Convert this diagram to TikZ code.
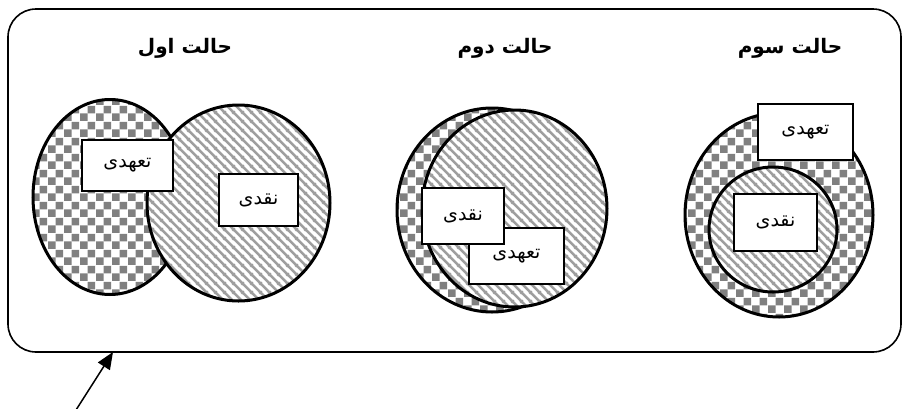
\documentclass[tikz,border=0pt]{standalone}
\usepackage{fontspec}
\newfontfamily\farsi[Script=Arabic]{DejaVu Sans}
\TeXXeTstate=1
\usetikzlibrary{arrows.meta,patterns.meta}

\tikzdeclarepattern{
  name=checks,
  type=uncolored,
  bounding box={(0pt,0pt) and (16pt,16pt)},
  tile size={(16pt,16pt)},
  code={
    \fill (0pt,0pt) rectangle (8pt,8pt);
    \fill (8pt,8pt) rectangle (16pt,16pt);
  }
}

\tikzdeclarepattern{
  name=stripes,
  type=uncolored,
  bounding box={(0pt,0pt) and (9pt,9pt)},
  tile size={(9pt,9pt)},
  code={
    \draw[line width=2.6pt] (-1pt,10pt) -- (10pt,-1pt);
    \draw[line width=2.6pt] (-1pt,1pt) -- (1pt,-1pt);
    \draw[line width=2.6pt] (8pt,10pt) -- (10pt,8pt);
  }
}

\begin{document}
\begin{tikzpicture}[
  x=1pt, y=-1pt,
  checkzone/.style={draw, line width=3pt, preaction={fill=white}, pattern=checks, pattern color=black!50},
  stripezone/.style={draw, line width=3pt, preaction={fill=white}, pattern=stripes, pattern color=black!38},
  tag/.style={draw, line width=1.8pt, fill=white, inner sep=0pt, font=\farsi\fontsize{19}{22}\selectfont},
  heading/.style={font=\farsi\bfseries\fontsize{20}{24}\selectfont}
]
\useasboundingbox (0,0) rectangle (906,408);

% frame
\node[draw, line width=1.6pt, rounded corners=28pt, minimum width=893pt, minimum height=343pt] (frame) at (454.5,180.5) {};

% headings
\node[heading] (head1) at (185,48) {\beginR حالت اول\endR};
\node[heading] (head2) at (505,48) {\beginR حالت دوم\endR};
\node[heading] (head3) at (790,48) {\beginR حالت سوم\endR};

% first case
\draw[checkzone] (110,197) ellipse [x radius=77, y radius=97.5];
\draw[stripezone] (238.5,203) ellipse [x radius=91.5, y radius=98];
\node[tag, minimum width=91pt, minimum height=51pt] (duty1) at (127.5,165.5) {\beginR تعهدی\endR};
\node[tag, minimum width=79pt, minimum height=52pt] (cash1) at (258.5,200) {\beginR نقدی\endR};

% second case
\draw[checkzone] (492,210) ellipse [x radius=95, y radius=102];
\draw[stripezone] (514.5,208.5) ellipse [x radius=92.5, y radius=98.5];
\node[tag, minimum width=95pt, minimum height=56pt] (duty2) at (516.5,256) {\beginR تعهدی\endR};
\node[tag, minimum width=82pt, minimum height=56pt] (cash2) at (463,216) {\beginR نقدی\endR};

% third case
\draw[checkzone] (779,215) ellipse [x radius=94, y radius=102];
\draw[stripezone] (773,229.5) ellipse [x radius=64, y radius=62.5];
\node[tag, minimum width=95pt, minimum height=56pt] (duty3) at (805.5,132) {\beginR تعهدی\endR};
\node[tag, minimum width=83pt, minimum height=57pt] (cash3) at (775.5,222.5) {\beginR نقدی\endR};

% pointer
\coordinate (tail) at (76,410);
\coordinate (tip) at (113,352);
\draw[line width=1.5pt, -{Triangle[length=17pt,width=14pt]}] (tail) -- (tip);

\end{tikzpicture}
\end{document}
